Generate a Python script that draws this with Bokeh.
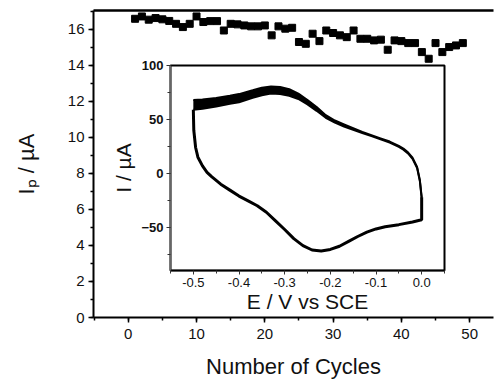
from bokeh.plotting import figure
from bokeh.models import SingleIntervalTicker, FixedTicker, LinearAxis, PrintfTickFormatter
from bokeh.layouts import column
from bokeh.embed import file_html
from bokeh.resources import INLINE

# ---- main data: peak current vs cycle number ----
cycles = list(range(1, 50))
ip_values = [16.59, 16.72, 16.54, 16.63, 16.56, 16.47, 16.31, 16.13, 16.31, 16.72,
             16.41, 16.46, 16.46, 15.94, 16.31, 16.28, 16.22, 16.17, 16.17, 16.22,
             15.67, 16.17, 16.04, 16.09, 15.30, 15.20, 15.76, 15.35, 15.94, 15.80,
             15.67, 15.57, 15.94, 15.48, 15.48, 15.39, 15.43, 14.87, 15.39, 15.35,
             15.24, 15.24, 14.74, 14.37, 15.24, 14.74, 15.02, 15.11, 15.24]

# ---- inset data: cyclic voltammograms ----
E_up = [-0.50, -0.48, -0.45, -0.42, -0.40, -0.37, -0.35, -0.33, -0.31, -0.29,
        -0.27, -0.25, -0.23, -0.21, -0.19, -0.17, -0.15, -0.13, -0.11, -0.09,
        -0.07, -0.05, -0.04, -0.03, -0.02, -0.01, -0.004, 0.0]
I_up_hi = [68, 68.5, 70, 72, 73.5, 77, 79.5, 80.5, 80, 78,
           74, 68, 61.5, 54, 49, 45.5, 42, 38.5, 35.5, 32.5,
           29.5, 25.5, 23, 19.5, 14.5, 6, -6, -22]
I_up_lo = [59, 60, 62, 64.5, 66, 70, 72.5, 74, 73.5, 72,
           69, 64, 58, 51.5, 47, 43.5, 40.5, 37.5, 34.5, 31.5,
           28.5, 24.5, 22, 18.5, 13.5, 5, -7, -23]
E_dn = [0.0, 0.0, -0.02, -0.05, -0.08, -0.10, -0.12, -0.14, -0.16, -0.18,
        -0.20, -0.22, -0.24, -0.26, -0.28, -0.30, -0.32, -0.34, -0.36, -0.38,
        -0.40, -0.42, -0.44, -0.46, -0.47, -0.48, -0.49, -0.495, -0.499, -0.50]
I_dn = [-22, -43, -45, -47.5, -49.5, -51.5, -54.5, -58.5, -63, -67.5,
        -70.5, -72, -71, -67, -60.5, -52, -44, -36, -30, -25.5,
        -21, -15.5, -10, -3, 1, 7, 15, 24, 40, 59]
E_ticks = [-0.5, -0.4, -0.3, -0.2, -0.1, 0.0]
E_minor = [-0.55, -0.45, -0.35, -0.25, -0.15, -0.05, 0.05]

FONT = "Liberation Sans"

p = figure(width=496, height=385, x_range=(-5.09, 53.49), y_range=(0, 17.05),
           output_backend="svg", toolbar_location=None,
           min_border_left=93, min_border_right=0, min_border_top=10,
           min_border_bottom=68)
p.xgrid.visible = False
p.ygrid.visible = False
p.outline_line_color = None
p.background_fill_color = "white"
p.border_fill_color = "white"

main_x = p.below[0]
main_y = p.left[0]

# top frame line (the right side of the frame lies outside the picture)
top_axis = LinearAxis(ticker=FixedTicker(ticks=[], minor_ticks=[]),
                      axis_line_width=2.5, axis_line_color="black",
                      major_tick_line_color=None, minor_tick_line_color=None,
                      major_label_text_font_size="0px", major_label_standoff=0)
p.add_layout(top_axis, "above")

p.scatter(cycles, ip_values, marker="square", size=7, color="black")

main_x.ticker = SingleIntervalTicker(interval=10, num_minor_ticks=2)
main_y.ticker = SingleIntervalTicker(interval=2, num_minor_ticks=2)
for ax in (main_x, main_y):
    ax.axis_line_width = 2
    ax.axis_line_color = "black"
    ax.major_tick_line_color = "black"
    ax.minor_tick_line_color = "black"
    ax.major_tick_line_width = 1.5
    ax.minor_tick_line_width = 1.5
    ax.major_tick_out = 5
    ax.major_tick_in = 0
    ax.minor_tick_out = 3
    ax.minor_tick_in = 0
    ax.major_label_text_font = FONT
    ax.major_label_text_font_size = "15px"
    ax.major_label_text_color = "#111111"
    ax.axis_label_text_font = FONT
    ax.axis_label_text_font_style = "normal"
    ax.axis_label_text_font_size = "22px"
    ax.axis_label_text_color = "#111111"
main_x.axis_label = "Number of Cycles"
main_x.major_label_standoff = 6
main_x.axis_label_standoff = 12
main_y.major_label_standoff = 4
main_y.axis_label = "I\u209a / µA"
main_y.axis_label_standoff = 26

# ---- inset ----
ins = figure(width=370, height=263, x_range=(-0.55, 0.05), y_range=(-90, 100),
             output_backend="svg", toolbar_location=None,
             min_border_left=93, min_border_right=3, min_border_top=10,
             min_border_bottom=48)
ins.xgrid.visible = False
ins.ygrid.visible = False
ins.outline_line_color = "black"
ins.outline_line_width = 2
ins.background_fill_color = "white"
ins.border_fill_color = None

ins.varea(x=E_up, y1=I_up_lo, y2=I_up_hi, color="black")
ins.line(E_up, I_up_hi, line_width=2, color="black")
ins.line(E_up, I_up_lo, line_width=2, color="black")
ins.line(E_dn, I_dn, line_width=3, color="black")

ins_x = ins.below[0]
ins_y = ins.left[0]
ins_x.ticker = FixedTicker(ticks=E_ticks, minor_ticks=E_minor)
ins_x.formatter = PrintfTickFormatter(format="%.1f")
ins_y.ticker = SingleIntervalTicker(interval=50, num_minor_ticks=2)
for ax in (ins_x, ins_y):
    ax.axis_line_width = 1.5
    ax.axis_line_color = "black"
    ax.major_tick_line_color = "#333333"
    ax.minor_tick_line_color = "#333333"
    ax.major_tick_out = 4
    ax.major_tick_in = 0
    ax.minor_tick_out = 3
    ax.minor_tick_in = 0
    ax.major_label_text_font = FONT
    ax.major_label_text_font_size = "13px"
    ax.major_label_text_color = "#111111"
    ax.axis_label_text_font = FONT
    ax.axis_label_text_font_style = "normal"
    ax.axis_label_text_font_size = "21px"
    ax.axis_label_text_color = "#111111"
    ax.major_label_standoff = 3
ins_x.axis_label_standoff = 0
ins_y.axis_label_standoff = 3
ins_y.axis_line_color = "#666666"
ins_y.major_label_text_font_style = "bold"
ins_x.axis_label = "E / V vs SCE"
ins_y.axis_label = "I / µA"

ins.styles = {"position": "absolute", "left": "77px", "top": "55px"}
layout = column(p, ins, styles={"position": "relative"})

open("out.html", "w").write(file_html(layout, INLINE))
